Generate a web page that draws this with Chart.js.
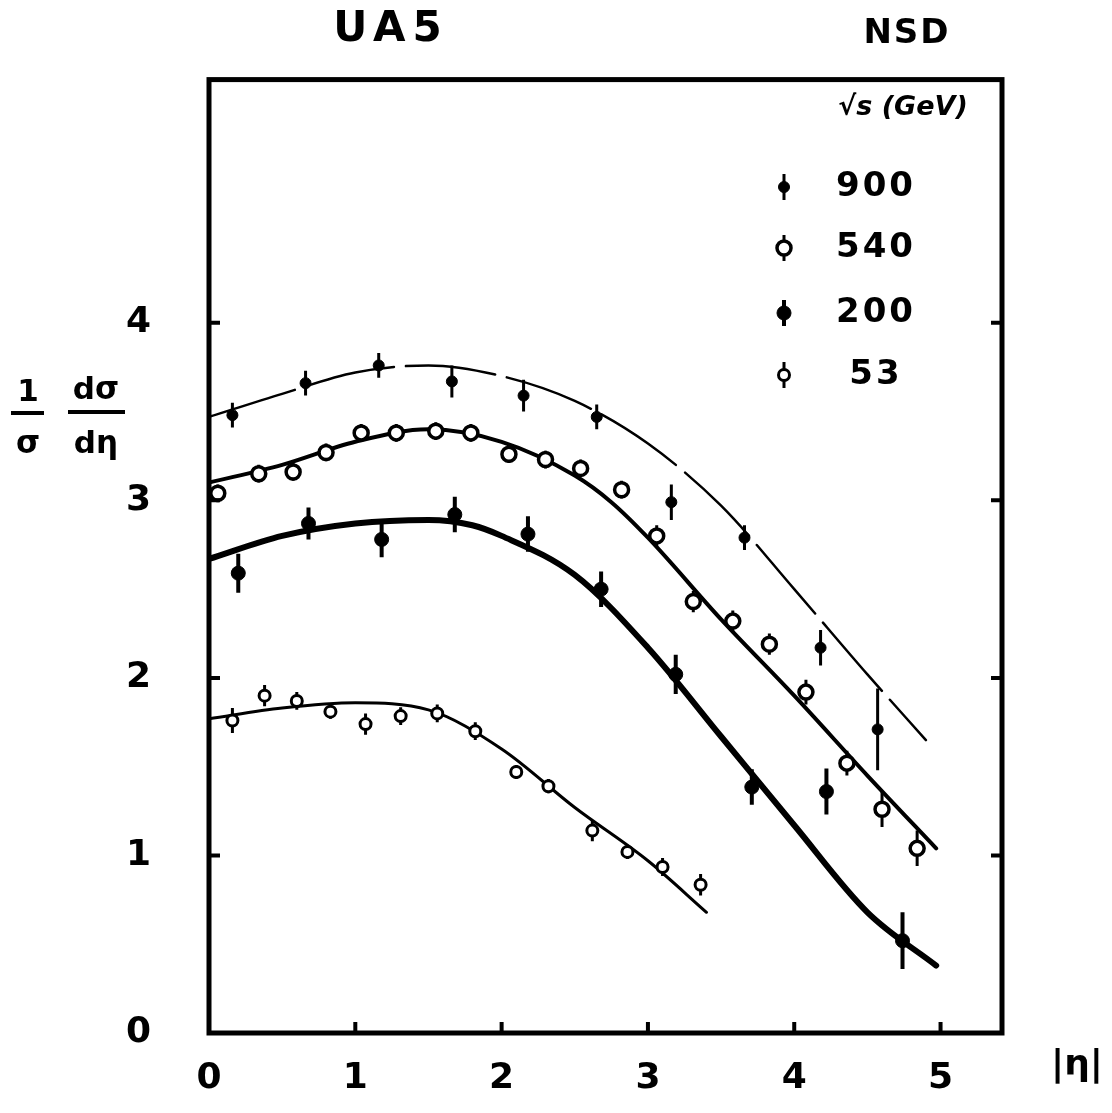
<!DOCTYPE html>
<html>
<head>
<meta charset="utf-8">
<title>UA5 NSD 1/σ dσ/dη</title>
<script src="https://cdn.jsdelivr.net/npm/chart.js@4.4.1/dist/chart.umd.min.js"></script>
<style>
  html, body { margin: 0; padding: 0; background: #fff; }
  canvas { display: block; }
</style>
</head>
<body>
<canvas id="chart" width="1112" height="1113"></canvas>
<script>
// √s (GeV) of each data set, as in the legend
const energies = ['900', '540', '200', '53'];

// measured points: |η|, 1/σ dσ/dη and half error
const eta900 = [0.16, 0.66, 1.16, 1.66, 2.15, 2.65, 3.16, 3.66, 4.18, 4.57];
const val900 = [3.48, 3.66, 3.76, 3.67, 3.59, 3.47, 2.99, 2.79, 2.17, 1.71];
const err900 = [0.07, 0.07, 0.07, 0.09, 0.09, 0.07, 0.10, 0.07, 0.10, 0.23];

const eta540 = [0.06, 0.34, 0.575, 0.80, 1.04, 1.28, 1.55, 1.79, 2.05, 2.30,
                2.54, 2.82, 3.06, 3.31, 3.58, 3.83, 4.08, 4.36, 4.60, 4.84];
const val540 = [3.04, 3.15, 3.16, 3.27, 3.38, 3.38, 3.39, 3.38, 3.26, 3.23,
                3.18, 3.06, 2.80, 2.43, 2.32, 2.19, 1.92, 1.52, 1.26, 1.04];
const err540 = [0.05, 0.05, 0.05, 0.05, 0.05, 0.05, 0.05, 0.05, 0.05, 0.05,
                0.05, 0.05, 0.06, 0.06, 0.06, 0.06, 0.07, 0.07, 0.10, 0.10];

const eta200 = [0.20, 0.68, 1.18, 1.68, 2.18, 2.68, 3.19, 3.71, 4.22, 4.74];
const val200 = [2.59, 2.87, 2.78, 2.92, 2.81, 2.50, 2.02, 1.385, 1.36, 0.52];
const err200 = [0.11, 0.09, 0.10, 0.10, 0.10, 0.10, 0.11, 0.10, 0.13, 0.16];

const eta53 = [0.16, 0.38, 0.60, 0.83, 1.07, 1.31, 1.56, 1.82, 2.10, 2.32, 2.62, 2.86, 3.10, 3.36];
const val53 = [1.76, 1.90, 1.87, 1.81, 1.74, 1.785, 1.80, 1.70, 1.47, 1.39, 1.14, 1.02, 0.935, 0.835];
const err53 = [0.07, 0.06, 0.05, 0.04, 0.06, 0.05, 0.05, 0.05, 0.04, 0.04, 0.06, 0.04, 0.05, 0.06];

// hand drawn curves
const fitEta900 = [0, 0.5, 1, 1.5, 2, 2.5, 3, 3.5, 4, 4.5, 4.9];
const fitVal900 = [3.47, 3.6, 3.72, 3.76, 3.7, 3.56, 3.32, 2.97, 2.5, 2.02, 1.65];
const fitEta540 = [0, 0.5, 1, 1.5, 2, 2.5, 2.75, 3, 3.5, 4, 4.5, 4.97];
const fitVal540 = [3.1, 3.2, 3.33, 3.4, 3.33, 3.14, 2.99, 2.79, 2.33, 1.9, 1.45, 1.04];
const fitEta200 = [0, 0.5, 1, 1.5, 1.8, 2, 2.5, 3, 3.5, 4, 4.5, 4.97];
const fitVal200 = [2.67, 2.8, 2.87, 2.89, 2.86, 2.8, 2.58, 2.17, 1.67, 1.17, 0.68, 0.38];
const fitEta53 = [0, 0.5, 1, 1.5, 2, 2.5, 3, 3.4];
const fitVal53 = [1.77, 1.83, 1.86, 1.82, 1.6, 1.27, 0.97, 0.68];

// axes
const xTickLabels = [0, 1, 2, 3, 4, 5];
const yTickLabels = [0, 1, 2, 3, 4];
const xInnerTicks = [1, 2, 3, 4, 5];
const yInnerTicks = [1, 2, 3, 4];

const FONT = '"DejaVu Sans", "Liberation Sans", sans-serif';
const pts = (xs, ys) => xs.map((x, i) => ({ x, y: ys[i] }));

function markers(label, xs, ys, errs, style) {
  return Object.assign({
    type: 'scatter', label, data: pts(xs, ys), errors: errs,
    showLine: false, order: 1, pointBorderColor: '#000', pointHoverRadius: 0
  }, style);
}

function curve(xs, ys, width, dash) {
  return {
    type: 'line', data: pts(xs, ys), order: 2,
    borderColor: '#000', borderWidth: width, borderDash: dash || [],
    pointRadius: 0, fill: false, cubicInterpolationMode: 'monotone',
    borderCapStyle: 'round'
  };
}

const errorBars = {
  id: 'errorBars',
  beforeDatasetsDraw(chart) {
    const { ctx } = chart;
    const xs = chart.scales.x, ys = chart.scales.y;
    chart.data.datasets.forEach(ds => {
      if (!ds.errors) return;
      ctx.save();
      ctx.strokeStyle = '#000';
      ctx.lineWidth = ds.errorWidth;
      ctx.beginPath();
      ds.data.forEach((p, j) => {
        const px = xs.getPixelForValue(p.x);
        ctx.moveTo(px, ys.getPixelForValue(p.y - ds.errors[j]));
        ctx.lineTo(px, ys.getPixelForValue(p.y + ds.errors[j]));
      });
      ctx.stroke();
      ctx.restore();
    });
  }
};

const frame = {
  id: 'frame',
  afterDraw(chart) {
    const { ctx, chartArea: a } = chart;
    const xs = chart.scales.x, ys = chart.scales.y;
    ctx.save();
    ctx.strokeStyle = '#000';
    ctx.lineWidth = 5;
    ctx.strokeRect(a.left, a.top, a.right - a.left, a.bottom - a.top);

    // ticks point into the box
    ctx.lineWidth = 4;
    ctx.beginPath();
    yInnerTicks.forEach(v => {
      const py = ys.getPixelForValue(v);
      ctx.moveTo(a.left, py); ctx.lineTo(a.left + 11, py);
      ctx.moveTo(a.right, py); ctx.lineTo(a.right - 11, py);
    });
    xInnerTicks.forEach(v => {
      const px = xs.getPixelForValue(v);
      ctx.moveTo(px, a.bottom); ctx.lineTo(px, a.bottom - 11);
    });
    ctx.stroke();
    ctx.restore();
  }
};

const labels = {
  id: 'labels',
  afterDraw(chart) {
    const { ctx } = chart;
    ctx.save();
    ctx.fillStyle = '#000';
    ctx.textAlign = 'center';
    ctx.textBaseline = 'middle';

    ctx.font = `bold 42px ${FONT}`;
    ctx.letterSpacing = '7px';
    ctx.fillText('UA5', 391, 30);
    ctx.font = `bold 34px ${FONT}`;
    ctx.letterSpacing = '2px';
    ctx.fillText('NSD', 907, 34);
    ctx.letterSpacing = '0px';

    ctx.font = `italic bold 27px ${FONT}`;
    ctx.fillText('√s (GeV)', 903, 108);

    // y title: 1/σ dσ/dη
    ctx.font = `bold 31px ${FONT}`;
    ctx.fillText('1', 28, 393);
    ctx.fillText('σ', 28, 445);
    ctx.fillText('dσ', 96, 391);
    ctx.fillText('dη', 96, 445);
    ctx.strokeStyle = '#000';
    ctx.lineWidth = 4;
    ctx.beginPath();
    ctx.moveTo(11, 413); ctx.lineTo(44, 413);
    ctx.moveTo(68, 412); ctx.lineTo(125, 412);
    ctx.stroke();

    ctx.font = `bold 36px ${FONT}`;
    ctx.fillText('|η|', 1077, 1066);

    // legend inside the frame
    const rows = [187, 248, 313, 375];
    const marks = chart.data.datasets.filter(d => d.errors);
    marks.forEach((ds, i) => {
      const y = rows[i];
      ctx.lineWidth = ds.errorWidth;
      ctx.beginPath();
      ctx.moveTo(784, y - 13); ctx.lineTo(784, y + 13);
      ctx.stroke();
      ctx.beginPath();
      ctx.arc(784, y, ds.pointRadius, 0, Math.PI * 2);
      ctx.fillStyle = ds.pointBackgroundColor;
      ctx.fill();
      ctx.lineWidth = ds.pointBorderWidth;
      ctx.stroke();
      ctx.fillStyle = '#000';
      ctx.font = `bold 34px ${FONT}`;
      ctx.letterSpacing = '3px';
      ctx.fillText(energies[i], 876, y);
      ctx.letterSpacing = '0px';
    });
    ctx.restore();
  }
};

new Chart(document.getElementById('chart'), {
  data: {
    datasets: [
      markers(energies[0], eta900, val900, err900,
        { pointRadius: 5.5, pointBackgroundColor: '#000', pointBorderWidth: 1, errorWidth: 3 }),
      markers(energies[1], eta540, val540, err540,
        { pointRadius: 7, pointBackgroundColor: '#fff', pointBorderWidth: 3.5, errorWidth: 3 }),
      markers(energies[2], eta200, val200, err200,
        { pointRadius: 7, pointBackgroundColor: '#000', pointBorderWidth: 1, errorWidth: 4 }),
      markers(energies[3], eta53, val53, err53,
        { pointRadius: 5.5, pointBackgroundColor: '#fff', pointBorderWidth: 3, errorWidth: 3 }),
      curve(fitEta900, fitVal900, 2.5, [90, 12]),
      curve(fitEta540, fitVal540, 4),
      curve(fitEta200, fitVal200, 6),
      curve(fitEta53, fitVal53, 3)
    ]
  },
  options: {
    responsive: false,
    animation: false,
    devicePixelRatio: 1,
    layout: { padding: { top: 64, right: 110, left: 0, bottom: 0 } },
    plugins: { legend: { display: false }, tooltip: { enabled: false } },
    scales: {
      x: {
        type: 'linear', min: 0, max: 5.42,
        afterBuildTicks: s => { s.ticks = xTickLabels.map(v => ({ value: v })); },
        afterFit: s => { s.height = 80; },
        grid: { display: false, drawTicks: false },
        border: { display: false },
        ticks: { color: '#000', padding: 24, font: { family: FONT, size: 36, weight: 'bold' } }
      },
      y: {
        type: 'linear', min: 0, max: 5.37,
        afterBuildTicks: s => { s.ticks = yTickLabels.map(v => ({ value: v })); },
        afterFit: s => { s.width = 209; },
        grid: { display: false, drawTicks: false },
        border: { display: false },
        ticks: { color: '#000', padding: 58, font: { family: FONT, size: 36, weight: 'bold' } }
      }
    }
  },
  plugins: [errorBars, frame, labels]
});
</script>
</body>
</html>
